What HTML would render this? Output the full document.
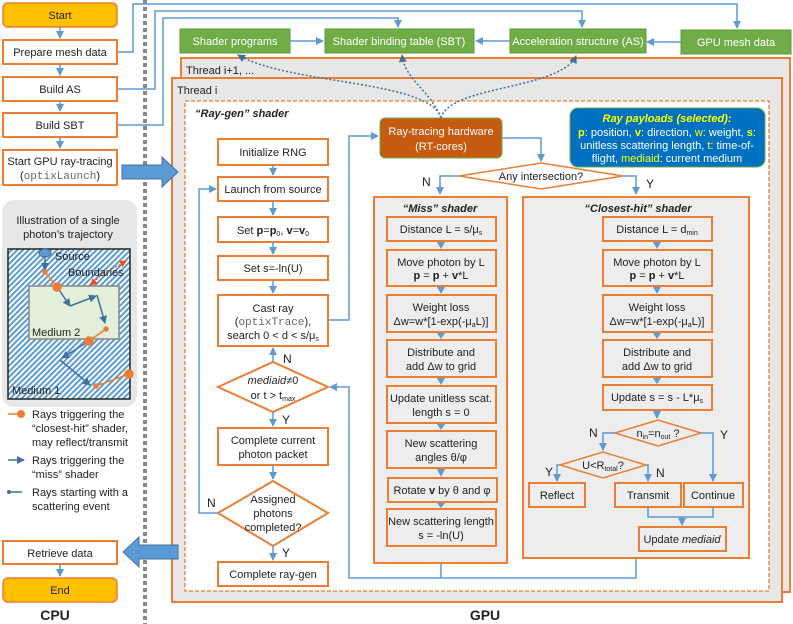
<!DOCTYPE html>
<html><head><meta charset="utf-8"><style>
body{margin:0;background:#fff}
svg{display:block;font-family:"Liberation Sans",sans-serif;font-size:11px}
</style></head><body>
<svg width="793" height="624" viewBox="0 0 793 624" xmlns="http://www.w3.org/2000/svg">
<defs>
<marker id="a" markerWidth="8" markerHeight="8" refX="7" refY="4" orient="auto" markerUnits="userSpaceOnUse"><path d="M0,0 L8,4 L0,8 z" fill="#5B9BD5"/></marker>
<marker id="d" markerWidth="8" markerHeight="8" refX="7" refY="4" orient="auto" markerUnits="userSpaceOnUse"><path d="M0,0 L8,4 L0,8 z" fill="#41719C"/></marker>
<marker id="r" markerWidth="7" markerHeight="7" refX="6" refY="3.5" orient="auto" markerUnits="userSpaceOnUse"><path d="M0,0 L7,3.5 L0,7 z" fill="#FF4500"/></marker>
<pattern id="h" width="4" height="4" patternUnits="userSpaceOnUse" patternTransform="rotate(45)"><rect width="4" height="4" fill="#fff"/><rect width="2" height="4" fill="#5B9BD5"/></pattern>
</defs>
<style>
.o{fill:#fff;stroke:#ED7D31;stroke-width:2}
.g{fill:#EDEDED;stroke:#ED7D31;stroke-width:2}
.b{fill:none;stroke:#5B9BD5;stroke-width:1.5}
.gr{fill:#70AD47;stroke:#5A9A3A}
.t{text-anchor:middle;fill:#222}
.w{text-anchor:middle;fill:#fff}
.m{font-family:"Liberation Mono",monospace;fill:#666}
</style>
<line x1="145" y1="0" x2="145" y2="624" stroke="#888" stroke-width="4" stroke-dasharray="4,3"/>

<path class="b" d="M117,52 H133 V4 H737 V28" marker-end="url(#a)"/>
<path class="b" d="M117,89 H155 V11 H582 V27" marker-end="url(#a)"/>
<path class="b" d="M117,125 H163 V18 H398 V27" marker-end="url(#a)"/>

<rect class="gr" x="180" y="29" width="110" height="24"/><text class="w" x="235" y="45">Shader programs</text>
<rect class="gr" x="325" y="29" width="149" height="24"/><text class="w" x="399" y="45">Shader binding table (SBT)</text>
<rect class="gr" x="510" y="29" width="136" height="24"/><text class="w" x="578" y="45">Acceleration structure (AS)</text>
<rect class="gr" x="681" y="30" width="110" height="24"/><text class="w" x="736" y="46">GPU mesh data</text>
<path class="b" d="M290,41 H323" marker-end="url(#a)"/>
<path class="b" d="M510,41 H476" marker-end="url(#a)"/>
<path class="b" d="M681,42 H647" marker-end="url(#a)"/>

<rect x="181" y="58" width="609" height="534" fill="#E7E7E7" stroke="#ED7D31" stroke-width="2"/>
<text x="186" y="74" fill="#222">Thread i+1, ...</text>
<rect x="172" y="78" width="610" height="524" fill="#E7E7E7" stroke="#ED7D31" stroke-width="2"/>
<text x="177" y="94" fill="#222">Thread i</text>
<rect x="185" y="101" width="584" height="490" fill="#fff" stroke="#ED7D31" stroke-width="1.3" stroke-dasharray="4,2"/>
<text x="195" y="117" font-weight="bold" font-style="italic" fill="#222">“Ray-gen” shader</text>

<g fill="none" stroke="#41719C" stroke-width="1.5" stroke-dasharray="2,2">
<path d="M441,118 C430,80 290,85 238,55" marker-end="url(#d)"/>
<path d="M441,118 C430,90 405,80 402,55" marker-end="url(#d)"/>
<path d="M441,118 C450,85 560,90 576,56" marker-end="url(#d)"/>
</g>

<rect x="3" y="3" width="114" height="24" rx="5" fill="#FFC000" stroke="#ED7D31" stroke-width="1.5"/><text class="t" x="60" y="19">Start</text>
<rect class="o" x="3" y="40" width="114" height="24"/><text class="t" x="60" y="56">Prepare mesh data</text>
<rect class="o" x="3" y="77" width="114" height="24"/><text class="t" x="60" y="93">Build AS</text>
<rect class="o" x="3" y="113" width="114" height="24"/><text class="t" x="60" y="129">Build SBT</text>
<rect class="o" x="3" y="150" width="114" height="35"/><text class="t" x="60" y="165">Start GPU ray-tracing</text><text class="t" x="60" y="179">(<tspan class="m">optixLaunch</tspan>)</text>
<path class="b" d="M60,27 V38" marker-end="url(#a)"/>
<path class="b" d="M60,64 V75" marker-end="url(#a)"/>
<path class="b" d="M60,101 V111" marker-end="url(#a)"/>
<path class="b" d="M60,137 V148" marker-end="url(#a)"/>
<rect class="o" x="3" y="541" width="114" height="23"/><text class="t" x="60" y="557">Retrieve data</text>
<rect x="3" y="578" width="114" height="24" rx="5" fill="#FFC000" stroke="#ED7D31" stroke-width="1.5"/><text class="t" x="60" y="594">End</text>
<path class="b" d="M60,564 V576" marker-end="url(#a)"/>
<text class="t" x="55" y="620" font-weight="bold" font-size="14">CPU</text>
<text class="t" x="485" y="620" font-weight="bold" font-size="14">GPU</text>

<path d="M122,165 H162 V157 L178,172 L162,187 V179 H122 z" fill="#5B9BD5" stroke="#41719C"/>
<path d="M178,545 H139 V537 L123,552 L139,567 V559 H178 z" fill="#5B9BD5" stroke="#41719C"/>

<rect x="2" y="200" width="135" height="207" rx="12" fill="#E7E7E7"/>
<text class="t" x="68" y="224">Illustration of a single</text>
<text class="t" x="68" y="238">photon’s trajectory</text>
<rect x="8" y="249" width="122" height="150" fill="url(#h)" stroke="#222" stroke-width="1.5"/>
<rect x="29" y="286" width="90" height="53" fill="#E2EFDA" stroke="#888" stroke-width="1.5"/>
<text x="32" y="336" fill="#222">Medium 2</text>
<text x="12" y="394" fill="#222">Medium 1</text>
<text x="55" y="260" fill="#222">Source</text>
<text x="68" y="276" fill="#222">Boundaries</text>
<ellipse cx="45" cy="253" rx="6" ry="4" fill="#5B9BD5" stroke="#41719C"/>
<path d="M100,276 L126,261" stroke="#FF4500" stroke-dasharray="2,1.5" fill="none" marker-end="url(#r)"/>
<path d="M100,276 L91,285" stroke="#FF4500" stroke-dasharray="2,1.5" fill="none" marker-end="url(#r)"/>
<g stroke="#41719C" stroke-width="1.5" fill="none">
<path d="M45,256 V270" marker-end="url(#d)"/>
<path d="M57,287 L70,306" marker-end="url(#d)"/>
<path d="M70,306 L96,296" marker-end="url(#d)"/>
<path d="M97,295 L105,323" marker-end="url(#d)"/>
<path d="M89,341 L62,358" marker-end="url(#d)"/>
<path d="M60,360 L90,385" marker-end="url(#d)"/>
</g>
<g stroke="#ED7D31" stroke-width="1.5" fill="#ED7D31">
<path d="M45,272 L57,287" fill="none"/><circle cx="57" cy="287" r="4"/>
<path d="M106,329 L89,341" fill="none"/><circle cx="89" cy="341" r="4"/><circle cx="106" cy="329" r="2"/><circle cx="45" cy="272" r="2"/>
<path d="M96,386 L129,374" fill="none"/><circle cx="129" cy="374" r="4"/><circle cx="96" cy="386" r="2"/>
</g>
<line x1="8" y1="414" x2="22" y2="414" stroke="#ED7D31" stroke-width="1.5"/><circle cx="21" cy="414" r="4" fill="#ED7D31"/>
<text x="32" y="418" fill="#222">Rays triggering the</text>
<text x="32" y="432" fill="#222">“closest-hit” shader,</text>
<text x="32" y="446" fill="#222">may reflect/transmit</text>
<path d="M8,460 H24" stroke="#41719C" stroke-width="1.5" marker-end="url(#d)"/>
<text x="32" y="464" fill="#222">Rays triggering the</text>
<text x="32" y="478" fill="#222">“miss” shader</text>
<line x1="8" y1="492" x2="22" y2="492" stroke="#41719C" stroke-width="1.5"/><circle cx="9" cy="492" r="2" fill="#41719C"/>
<text x="32" y="496" fill="#222">Rays starting with a</text>
<text x="32" y="510" fill="#222">scattering event</text>

<rect class="o" x="218" y="139" width="110" height="26"/><text class="t" x="273" y="156">Initialize RNG</text>
<rect class="o" x="218" y="177" width="110" height="24"/><text class="t" x="273" y="193">Launch from source</text>
<rect class="o" x="218" y="217" width="110" height="25"/><text class="t" x="273" y="234">Set <tspan font-weight="bold">p</tspan>=<tspan font-weight="bold">p</tspan><tspan font-size="7" dy="2">0</tspan><tspan dy="-2">, </tspan><tspan font-weight="bold">v</tspan>=<tspan font-weight="bold">v</tspan><tspan font-size="7" dy="2">0</tspan></text>
<rect class="o" x="218" y="256" width="110" height="24"/><text class="t" x="273" y="272">Set s=-ln(U)</text>
<rect class="o" x="218" y="295" width="110" height="51"/>
<text class="t" x="273" y="312">Cast ray</text><text class="t" x="273" y="325">(<tspan class="m">optixTrace</tspan>),</text><text class="t" x="273" y="339">search 0 &lt; d &lt; s/μ<tspan font-size="7" dy="2">s</tspan></text>
<polygon class="o" points="218,387 273,362 328,387 273,412"/>
<text class="t" x="273" y="384"><tspan font-style="italic">mediaid</tspan>≠0</text><text class="t" x="273" y="399">or t &gt; t<tspan font-size="7" dy="2">max</tspan></text>
<rect class="o" x="218" y="428" width="110" height="37"/><text class="t" x="273" y="444">Complete current</text><text class="t" x="273" y="458">photon packet</text>
<polygon class="o" points="218,513 273,481 328,513 273,546"/>
<text class="t" x="273" y="503">Assigned</text><text class="t" x="273" y="517">photons</text><text class="t" x="273" y="531">completed?</text>
<rect class="o" x="218" y="562" width="110" height="24"/><text class="t" x="273" y="578">Complete ray-gen</text>
<path class="b" d="M273,165 V175" marker-end="url(#a)"/>
<path class="b" d="M273,201 V215" marker-end="url(#a)"/>
<path class="b" d="M273,242 V254" marker-end="url(#a)"/>
<path class="b" d="M273,280 V293" marker-end="url(#a)"/>
<path class="b" d="M273,362 V348" marker-end="url(#a)"/>
<path class="b" d="M273,412 V426" marker-end="url(#a)"/>
<path class="b" d="M273,465 V479" marker-end="url(#a)"/>
<path class="b" d="M273,546 V560" marker-end="url(#a)"/>
<path class="b" d="M218,513 H199 V189 H216" marker-end="url(#a)"/>
<path class="b" d="M328,320 H349 V136 H378" marker-end="url(#a)"/>
<path class="b" d="M441,563 V578 M636,558 V578 H349 V387 H330" marker-end="url(#a)"/>
<text x="283" y="363" fill="#222" font-size="12">N</text>
<text x="282" y="424" fill="#222" font-size="12">Y</text>
<text x="207" y="507" fill="#222" font-size="12">N</text>
<text x="282" y="557" fill="#222" font-size="12">Y</text>

<rect x="380" y="118" width="122" height="40" rx="5" fill="#C55A11" stroke="#70AD47"/>
<text class="w" x="441" y="135">Ray-tracing hardware</text><text class="w" x="441" y="150">(RT-cores)</text>
<path class="b" d="M502,138 H541 V161" marker-end="url(#a)"/>
<polygon points="459,176 541,163 623,176 541,189" fill="#fff" stroke="#ED7D31" stroke-width="1.5"/>
<text class="t" x="541" y="180">Any intersection?</text>
<path class="b" d="M459,176 H440 V194" marker-end="url(#a)"/>
<path class="b" d="M623,176 H636 V194" marker-end="url(#a)"/>
<text x="422" y="186" fill="#222" font-size="12">N</text>
<text x="646" y="188" fill="#222" font-size="12">Y</text>

<rect x="570" y="108" width="195" height="59" rx="8" fill="#0070C0" stroke="#70AD47"/>
<text class="t" x="667" y="122" style="fill:#FFFF00" font-weight="bold" font-style="italic">Ray payloads (selected):</text>
<text class="w" x="667" y="136"><tspan fill="#FFFF00" font-weight="bold">p</tspan>: position, <tspan fill="#FFFF00" font-weight="bold">v</tspan>: direction, <tspan fill="#FFFF00">w</tspan>: weight, <tspan fill="#FFFF00" font-weight="bold">s</tspan>:</text>
<text class="w" x="667" y="149">unitless scattering length, <tspan fill="#FFFF00">t</tspan>: time-of-</text>
<text class="w" x="667" y="162">flight, <tspan fill="#FFFF00">mediaid</tspan>: current medium</text>

<rect class="g" x="374" y="197" width="133" height="366"/>
<text class="t" x="440" y="212" font-weight="bold" font-style="italic">“Miss” shader</text>
<rect class="g" x="387" y="217" width="109" height="24"/><text class="t" x="441" y="233">Distance L = s/μ<tspan font-size="7" dy="2">s</tspan></text>
<rect class="g" x="387" y="250" width="109" height="36"/><text class="t" x="441" y="266">Move photon by L</text><text class="t" x="441" y="279"><tspan font-weight="bold">p</tspan> = <tspan font-weight="bold">p</tspan> + <tspan font-weight="bold">v</tspan>*L</text>
<rect class="g" x="387" y="295" width="109" height="37"/><text class="t" x="441" y="311">Weight loss</text><text class="t" x="441" y="325">Δw=w*[1-exp(-μ<tspan font-size="7" dy="2">a</tspan><tspan dy="-2">L)]</tspan></text>
<rect class="g" x="387" y="340" width="109" height="37"/><text class="t" x="441" y="356">Distribute and</text><text class="t" x="441" y="370">add Δw to grid</text>
<rect class="g" x="387" y="386" width="109" height="37"/><text class="t" x="441" y="402">Update unitless scat.</text><text class="t" x="441" y="416">length s = 0</text>
<rect class="g" x="387" y="431" width="109" height="37"/><text class="t" x="441" y="447">New scattering</text><text class="t" x="441" y="461">angles θ/φ</text>
<rect class="g" x="388" y="478" width="109" height="24"/><text class="t" x="442" y="494">Rotate <tspan font-weight="bold">v</tspan> by θ and φ</text>
<rect class="g" x="387" y="509" width="109" height="37"/><text class="t" x="441" y="525">New scattering length</text><text class="t" x="441" y="539">s = -ln(U)</text>
<g fill="#5B9BD5">
<path d="M437,242 h8 l-4,7z"/><path d="M437,287 h8 l-4,7z"/><path d="M437,333 h8 l-4,6z"/><path d="M437,378 h8 l-4,7z"/><path d="M437,424 h8 l-4,6z"/><path d="M437,469 h8 l-4,8z"/><path d="M437,503 h8 l-4,5z"/>
</g>

<rect class="g" x="523" y="197" width="226" height="361"/>
<text class="t" x="638" y="212" font-weight="bold" font-style="italic">“Closest-hit” shader</text>
<rect class="g" x="603" y="217" width="109" height="24"/><text class="t" x="657" y="233">Distance L = d<tspan font-size="7" dy="2">min</tspan></text>
<rect class="g" x="603" y="250" width="109" height="36"/><text class="t" x="657" y="266">Move photon by L</text><text class="t" x="657" y="279"><tspan font-weight="bold">p</tspan> = <tspan font-weight="bold">p</tspan> + <tspan font-weight="bold">v</tspan>*L</text>
<rect class="g" x="603" y="295" width="109" height="37"/><text class="t" x="657" y="311">Weight loss</text><text class="t" x="657" y="325">Δw=w*[1-exp(-μ<tspan font-size="7" dy="2">a</tspan><tspan dy="-2">L)]</tspan></text>
<rect class="g" x="603" y="340" width="109" height="37"/><text class="t" x="657" y="356">Distribute and</text><text class="t" x="657" y="370">add Δw to grid</text>
<rect class="g" x="603" y="385" width="109" height="25"/><text class="t" x="657" y="401">Update s = s - L*μ<tspan font-size="7" dy="2">s</tspan></text>
<g fill="#5B9BD5">
<path d="M653,242 h8 l-4,7z"/><path d="M653,287 h8 l-4,7z"/><path d="M653,333 h8 l-4,6z"/><path d="M653,378 h8 l-4,6z"/>
</g>
<path class="b" d="M657,410 V418" marker-end="url(#a)"/>
<polygon points="615,433 658,420 701,433 658,446" fill="#EDEDED" stroke="#ED7D31" stroke-width="1.5"/>
<text class="t" x="658" y="437">n<tspan font-size="7" dy="2">in</tspan><tspan dy="-2">=n</tspan><tspan font-size="7" dy="2">out</tspan><tspan dy="-2"> ?</tspan></text>
<polygon points="560,465 603,452 646,465 603,478" fill="#EDEDED" stroke="#ED7D31" stroke-width="1.5"/>
<text class="t" x="603" y="469">U&lt;R<tspan font-size="7" dy="2">total</tspan><tspan dy="-2">?</tspan></text>
<path class="b" d="M615,433 H603 V450" marker-end="url(#a)"/>
<path class="b" d="M701,433 H713 V481" marker-end="url(#a)"/>
<path class="b" d="M560,465 H557 V481" marker-end="url(#a)"/>
<path class="b" d="M646,465 H648 V481" marker-end="url(#a)"/>
<text x="589" y="437" fill="#222" font-size="12">N</text>
<text x="720" y="439" fill="#222" font-size="12">Y</text>
<text x="545" y="476" fill="#222" font-size="12">Y</text>
<text x="656" y="477" fill="#222" font-size="12">N</text>
<rect class="g" x="529" y="483" width="56" height="24"/><text class="t" x="557" y="499">Reflect</text>
<rect class="g" x="615" y="483" width="66" height="24"/><text class="t" x="648" y="499">Transmit</text>
<rect class="g" x="684" y="483" width="59" height="24"/><text class="t" x="713" y="499">Continue</text>
<path class="b" d="M648,507 V517 H713 V507 M682,517 V525" marker-end="url(#a)"/>
<rect class="g" x="639" y="527" width="87" height="24"/><text class="t" x="682" y="543">Update <tspan font-style="italic">mediaid</tspan></text>
</svg>
</body></html>
